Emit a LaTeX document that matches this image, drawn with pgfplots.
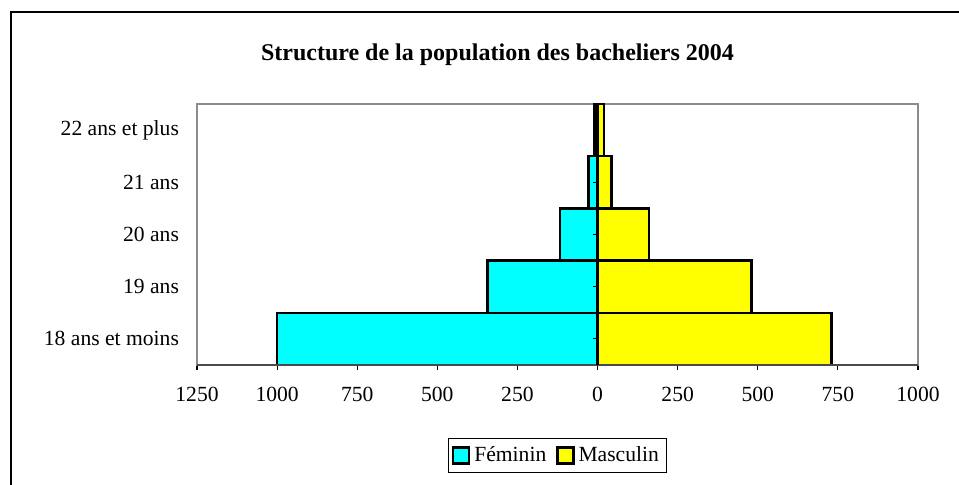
\documentclass[border=0pt]{standalone}
\usepackage{fontspec}
\setmainfont{Liberation Serif}
\usepackage{pgfplots}
\pgfplotsset{compat=1.18}
\definecolor{fem}{HTML}{00FFFF}
\definecolor{mas}{HTML}{FFFF00}
\definecolor{frame}{HTML}{8C8C8C}
\definecolor{baseax}{HTML}{4A4A4A}
\begin{document}
\begin{tikzpicture}[x=0.5pt,y=0.5pt]
\useasboundingbox (0,0) rectangle (959,485);
\draw[line width=1pt] (11,0) -- (11,473) -- (970,473);
\node[font=\fontsize{12}{14}\bfseries] at (497.5,430) {Structure de la population des bacheliers 2004};
\begin{axis}[
  at={(98.5pt,60pt)}, anchor=south west,
  scale only axis, width=360.5pt, height=130.5pt,
  xmin=-1250, xmax=1000, ymin=-0.5, ymax=4.5,
  xbar, bar width=1, bar shift=0pt,
  font=\fontsize{10.8}{13}\selectfont,
  /pgf/number format/assume math mode=true,
  xtick={-1250,-1000,-750,-500,-250,0,250,500,750,1000},
  xticklabels={1250,1000,750,500,250,0,250,500,750,1000},
  xtick pos=lower,
  ytick={0,1,2,3,4},
  yticklabels={18 ans et moins,19 ans,20 ans,21 ans\ ,22 ans et plus},
  ytick style={draw=none},
  tick align=outside, major tick length=2.5pt,
  xtick style={black, line width=0.6pt},
  x tick label style={yshift=-5pt},
  y tick label style={xshift=-3pt},
  axis line style={frame, line width=1pt},
  legend columns=2,
  legend style={at={(axis description cs:0.5,-0.3467)}, anchor=center,
    draw=black, line width=0.5pt, font=\fontsize{10.8}{13}\selectfont,
    inner sep=2pt, /tikz/every even column/.append style={column sep=3pt}},
  legend image code/.code={\draw[#1, line width=1.1pt] (0pt,-4pt) rectangle (8pt,4pt);},
  clip=false,
]
\addplot[fill=fem, draw=black, line width=1.2pt] coordinates {(-1000,0) (-343,1) (-118,2) (-28,3) (-10,4)};
\addlegendentry{Féminin}
\addplot[fill=mas, draw=black, line width=1.2pt] coordinates {(730,0) (481,1) (160,2) (44,3) (20,4)};
\addlegendentry{Masculin}
\draw[baseax, line width=1pt] (axis cs:-1250,-0.5) -- (axis cs:1000,-0.5);
\draw[black, line width=1.2pt] (axis cs:0,-0.5) -- (axis cs:0,4.5);
\draw[black, line width=0.6pt] (axis cs:0,0) -- ++(-2.5pt,0pt);
\draw[black, line width=0.6pt] (axis cs:0,1) -- ++(-2.5pt,0pt);
\draw[black, line width=0.6pt] (axis cs:0,2) -- ++(-2.5pt,0pt);
\draw[black, line width=0.6pt] (axis cs:0,3) -- ++(-2.5pt,0pt);
\draw[black, line width=0.6pt] (axis cs:0,4) -- ++(-2.5pt,0pt);
\end{axis}
\end{tikzpicture}
\end{document}
